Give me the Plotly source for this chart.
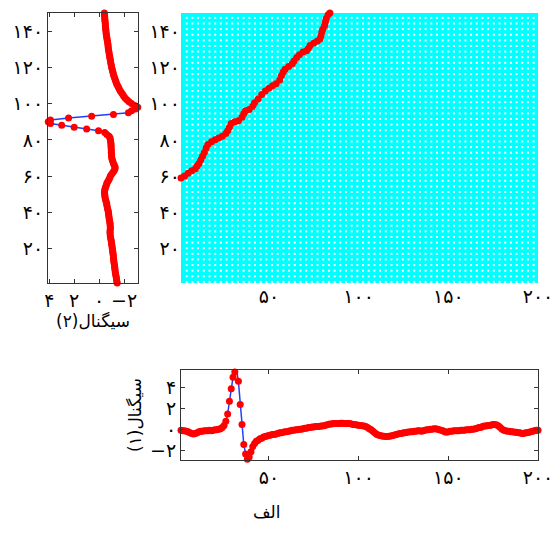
import numpy as np
import plotly.graph_objects as go

# ---------------- data ----------------
# signal 1 (bottom panel), samples 1..200
signal1 = [
    -0.05, -0.1, -0.1, -0.15, -0.2, -0.3, -0.35, -0.4, -0.35, -0.3,
    -0.2, -0.15, -0.15, -0.1, -0.1, -0.1, -0.05, -0.1, -0.05, 0.0,
    0.0, 0.05, 0.1, 0.2, 0.4, 0.8, 1.5, 2.7, 3.9, 5.0,
    5.5, 5.7, 4.6, 2.4, 0.5, -1.4, -2.3, -2.8, -2.6, -2.1,
    -1.6, -1.3, -1.1, -1.0, -0.85, -0.8, -0.7, -0.65, -0.6, -0.55,
    -0.5, -0.45, -0.45, -0.4, -0.35, -0.3, -0.3, -0.25, -0.2, -0.2,
    -0.15, -0.1, -0.05, -0.05, 0.0, 0.0, 0.05, 0.05, 0.1, 0.15,
    0.15, 0.2, 0.2, 0.25, 0.25, 0.3, 0.3, 0.3, 0.35, 0.35,
    0.4, 0.45, 0.5, 0.55, 0.55, 0.6, 0.6, 0.6, 0.6, 0.62,
    0.62, 0.6, 0.6, 0.6, 0.58, 0.55, 0.5, 0.5, 0.45, 0.42,
    0.4, 0.38, 0.35, 0.3, 0.2, 0.1, 0.0, -0.15, -0.3, -0.42,
    -0.5, -0.55, -0.6, -0.62, -0.65, -0.65, -0.62, -0.6, -0.55, -0.5,
    -0.45, -0.4, -0.35, -0.35, -0.3, -0.28, -0.25, -0.22, -0.2, -0.2,
    -0.15, -0.15, -0.1, -0.1, -0.15, -0.1, -0.05, 0.0, 0.0, 0.05,
    0.05, 0.1, 0.1, 0.05, 0.0, -0.05, -0.1, -0.2, -0.25, -0.2,
    -0.15, -0.15, -0.1, -0.1, -0.1, -0.1, -0.05, -0.05, -0.05, 0.0,
    0.0, 0.0, 0.05, 0.05, 0.1, 0.15, 0.2, 0.2, 0.3, 0.35,
    0.35, 0.4, 0.4, 0.45, 0.5, 0.5, 0.45, 0.35, 0.2, 0.05,
    -0.05, -0.1, -0.15, -0.15, -0.2, -0.2, -0.25, -0.25, -0.3, -0.3,
    -0.35, -0.35, -0.3, -0.3, -0.25, -0.2, -0.15, -0.1, -0.05, -0.05,
]
samples1 = list(range(1, len(signal1) + 1))

# signal 2 (left panel, drawn vertically), samples 1..150
signal2 = [
    -1.45, -1.42, -1.4, -1.38, -1.35, -1.32, -1.3, -1.28, -1.26, -1.25,
    -1.23, -1.2, -1.18, -1.17, -1.15, -1.14, -1.12, -1.1, -1.08, -1.06,
    -1.04, -1.02, -1.0, -0.98, -0.95, -0.92, -0.9, -0.88, -0.88, -0.88,
    -0.9, -0.9, -0.88, -0.88, -0.85, -0.82, -0.8, -0.78, -0.76, -0.75,
    -0.72, -0.68, -0.65, -0.62, -0.6, -0.56, -0.52, -0.48, -0.46, -0.45,
    -0.43, -0.44, -0.48, -0.52, -0.58, -0.62, -0.7, -0.78, -0.85, -0.9,
    -1.0, -1.1, -1.2, -1.28, -1.28, -1.22, -1.15, -1.1, -1.05, -1.02,
    -1.0, -1.0, -0.98, -0.98, -0.97, -0.96, -0.96, -0.95, -0.93, -0.9,
    -0.88, -0.8, -0.62, -0.45, 0.05, 1.0, 2.0, 3.0, 3.9, 4.08,
    3.9, 2.45, 0.6, -1.15, -2.35, -2.6, -2.9, -3.1, -2.85, -2.6,
    -2.4, -2.25, -2.1, -1.98, -1.9, -1.8, -1.7, -1.62, -1.55, -1.48,
    -1.4, -1.35, -1.3, -1.25, -1.2, -1.15, -1.12, -1.08, -1.05, -1.0,
    -0.98, -0.95, -0.92, -0.9, -0.87, -0.85, -0.82, -0.8, -0.77, -0.75,
    -0.73, -0.72, -0.7, -0.68, -0.65, -0.63, -0.6, -0.58, -0.56, -0.55,
    -0.53, -0.52, -0.5, -0.5, -0.48, -0.47, -0.45, -0.45, -0.43, -0.42,
]
samples2 = list(range(1, len(signal2) + 1))

# warping path (main panel): index in signal 1 vs index in signal 2
path_x = [1, 3, 5, 7, 9, 10, 11, 12, 13, 14, 15, 16, 18, 20, 22, 24, 26, 27, 28, 29,
          31, 33, 35, 36, 37, 39, 41, 42, 44, 46, 48, 50, 52, 54, 56, 57, 58, 59, 61, 63,
          64, 65.5, 67, 69, 71, 72, 73, 75, 77, 78.5, 79, 79.5, 80, 81, 81.5, 82, 83, 84]
path_y = [59, 60, 61.5, 63, 64, 65.5, 67, 69, 71, 73, 75.5, 77.5, 79, 80, 81, 82, 83.5, 85, 87, 89,
          90, 90.5, 92.5, 94.5, 96, 96.8, 98.5, 100.5, 102.5, 105, 107, 108.5, 109.8, 111, 113, 115.5, 117.5, 119, 120.5, 122,
          123.5, 125.5, 127, 128.5, 129.2, 130.5, 132, 133.5, 134.5, 135.6, 137.5, 139.5, 141, 143, 145, 147, 149, 150]

fa = str.maketrans("0123456789", "۰۱۲۳۴۵۶۷۸۹")
def fa_num(v):
    s = str(v).translate(fa)
    return s.replace("-", "\u2212")

ytick_vals = [20, 40, 60, 80, 100, 120, 140]
xtick_vals = [50, 100, 150, 200]
s1_ticks = [-2, 0, 2, 4]
s2_ticks = [4, 2, 0, -2]

# ---------------- style ----------------
W, H = 552, 536
RED = "#ff0000"
BLUE = "#2040ff"
FRAME = "#333333"
FONT = "DejaVu Sans"

def dx(p):
    return p / W
def dy(p):
    return 1 - p / H

fig = go.Figure()

# left panel: signal 2
fig.add_trace(go.Scatter(
    x=signal2, y=samples2, mode="lines+markers",
    line=dict(color=BLUE, width=1.5),
    marker=dict(color=RED, size=7),
    xaxis="x", yaxis="y", cliponaxis=False, showlegend=False))

# main panel: dotted background + path
gx, gy = np.meshgrid(np.arange(4.2, 200.5, 3.17), np.arange(150.4, 0.5, -3.1))
fig.add_trace(go.Scatter(
    x=gx.ravel(), y=gy.ravel(), mode="markers",
    marker=dict(color="white", size=2, symbol="square", line=dict(width=0)),
    xaxis="x2", yaxis="y2", showlegend=False, hoverinfo="skip"))
fig.add_trace(go.Scatter(
    x=path_x, y=path_y, mode="lines+markers",
    line=dict(color=RED, width=1.5),
    marker=dict(color=RED, size=7),
    xaxis="x2", yaxis="y2", cliponaxis=False, showlegend=False))

# bottom panel: signal 1
fig.add_trace(go.Scatter(
    x=samples1, y=signal1, mode="lines+markers",
    line=dict(color=BLUE, width=1.5),
    marker=dict(color=RED, size=7),
    xaxis="x3", yaxis="y3", cliponaxis=False, showlegend=False))

tickfont = dict(family=FONT, size=19, color="black")
titlefont = dict(family=FONT, size=17, color="black")
boxed = dict(showline=True, linecolor=FRAME, linewidth=1, mirror="ticks",
             ticks="inside", ticklen=4, tickcolor=FRAME, showgrid=False,
             zeroline=False, tickfont=tickfont, automargin=False,
             ticklabeloverflow="allow")
bare = dict(showline=False, ticks="", showgrid=False, zeroline=False,
            tickfont=tickfont, automargin=False, ticklabeloverflow="allow")

fig.update_layout(
    width=W, height=H,
    margin=dict(l=0, r=0, t=0, b=0),
    paper_bgcolor="white", plot_bgcolor="white",
    xaxis=dict(domain=[dx(48), dx(138)], range=[4.1, -3.12], anchor="y",
               tickvals=s2_ticks, ticktext=[fa_num(v) for v in s2_ticks],
               title=dict(text="\u200fسیگنال(۲)\u200f", font=titlefont, standoff=0),
               **boxed),
    yaxis=dict(domain=[dy(283), dy(13)], range=[1, 150], anchor="x",
               tickvals=ytick_vals, ticktext=[fa_num(v) for v in ytick_vals],
               **boxed),
    xaxis2=dict(domain=[dx(181), dx(538)], range=[1, 200], anchor="y2",
                tickvals=xtick_vals, ticktext=[fa_num(v) for v in xtick_vals],
                **bare),
    yaxis2=dict(domain=[dy(283), dy(13)], range=[1, 150], anchor="x2",
                tickvals=ytick_vals, ticktext=[fa_num(v) for v in ytick_vals],
                **bare),
    xaxis3=dict(domain=[dx(181), dx(538)], range=[1, 200], anchor="y3",
                tickvals=xtick_vals, ticktext=[fa_num(v) for v in xtick_vals],
                **boxed),
    yaxis3=dict(domain=[dy(460), dy(370)], range=[-2.88, 5.68], anchor="x3",
                tickvals=s1_ticks, ticktext=[fa_num(v) for v in s1_ticks],
                title=dict(text="\u200fسیگنال(۱)\u200f", font=titlefont, standoff=4),
                **boxed),
    shapes=[dict(type="rect", xref="x2 domain", yref="y2 domain",
                 x0=0, x1=1, y0=0, y1=1, fillcolor="#00ffff",
                 line=dict(width=0), layer="below")],
    annotations=[dict(text="الف", x=dx(267), y=dy(524), xref="paper", yref="paper",
                      showarrow=False, font=dict(family=FONT, size=17, color="black"))],
)

fig.write_html("out.html")
